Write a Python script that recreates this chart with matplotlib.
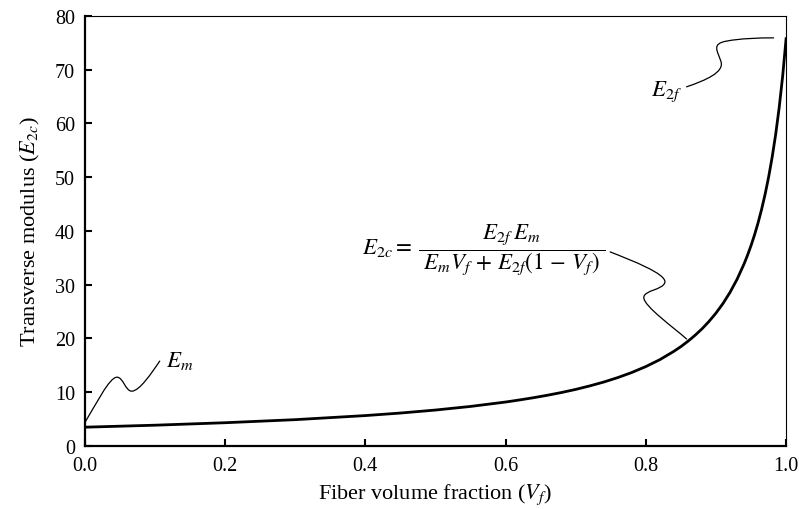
import matplotlib
matplotlib.use("Agg")
import matplotlib.pyplot as plt
from matplotlib.path import Path
from matplotlib.patches import PathPatch

plt.rcParams.update({
    'font.family': ['Liberation Serif', 'DejaVu Serif'],
    'mathtext.fontset': 'stix',
    'font.size': 14,
})

# Transverse modulus curve
vf = [0.0, 0.1, 0.2, 0.3, 0.4, 0.45, 0.5, 0.55, 0.6, 0.62, 0.64, 0.66, 0.68,
      0.7, 0.72, 0.74, 0.76, 0.78, 0.8, 0.82, 0.84, 0.85, 0.86, 0.87, 0.88,
      0.89, 0.9, 0.91, 0.92, 0.93, 0.94, 0.945, 0.95, 0.955, 0.96, 0.965,
      0.97, 0.975, 0.98, 0.985, 0.99, 0.995, 1.0]
e2c = [3.50, 3.87, 4.33, 4.90, 5.66, 6.13, 6.69, 7.36, 8.18, 8.57, 8.99,
       9.45, 9.96, 10.53, 11.18, 11.90, 12.73, 13.68, 14.78, 16.07, 17.62,
       18.50, 19.49, 20.58, 21.80, 23.18, 24.74, 26.53, 28.60, 31.02, 33.89,
       35.53, 37.33, 39.33, 41.56, 44.06, 46.87, 50.07, 53.74, 57.98, 62.96,
       68.87, 76.0]

x_ticks = [0.0, 0.2, 0.4, 0.6, 0.8, 1.0]
y_ticks = [0, 10, 20, 30, 40, 50, 60, 70, 80]


def leader(ax, verts):
    codes = [Path.MOVETO] + [Path.CURVE4] * (len(verts) - 1)
    ax.add_patch(PathPatch(Path(verts, codes), fill=False, lw=0.9,
                           color='black', capstyle='round'))


fig = plt.figure(figsize=(7.99, 5.10), dpi=100)
ax = fig.add_axes([0.106, 0.1235, 0.878, 0.8435])

ax.plot(vf, e2c, color='black', lw=2.0, solid_capstyle='butt',
        solid_joinstyle='round')

ax.set_xlim(0, 1.0)
ax.set_ylim(0, 80)
ax.set_xticks(x_ticks)
ax.set_xticklabels([f'{t:.1f}' for t in x_ticks])
ax.set_yticks(y_ticks)
ax.tick_params(direction='in', length=5, width=1.5, pad=7, labelsize=14.5)

for s in ['left', 'bottom']:
    ax.spines[s].set_linewidth(1.6)
for s in ['top', 'right']:
    ax.spines[s].set_linewidth(0.8)

ax.set_xlabel(r'Fiber volume fraction ($V_f$)', fontsize=16, labelpad=5)
ax.set_ylabel(r'Transverse modulus ($E_{2c}$)', fontsize=16, labelpad=9)

# E_m label and leader
leader(ax, [(0.0, 4.3), (0.015, 7.5), (0.035, 12.8), (0.046, 12.8),
            (0.055, 12.8), (0.058, 10.2), (0.067, 10.2),
            (0.078, 10.2), (0.095, 13.5), (0.107, 15.8)])
ax.text(0.116, 16.0, r'$E_m$', fontsize=16.5, ha='left', va='center')

# E_2f label and leader
leader(ax, [(0.858, 66.8), (0.885, 68.0), (0.912, 69.5), (0.907, 71.5),
            (0.902, 73.5), (0.893, 74.8), (0.915, 75.3),
            (0.935, 75.8), (0.96, 75.9), (0.982, 75.9)])
ax.text(0.851, 66.0, r'$E_{2f}$', fontsize=16.5, ha='right', va='center')

# formula label and leader
leader(ax, [(0.749, 36.1), (0.78, 34.5), (0.83, 32.0), (0.827, 30.4),
            (0.824, 29.0), (0.797, 29.0), (0.797, 27.6),
            (0.797, 26.0), (0.84, 22.0), (0.858, 19.9)])
ax.text(0.396, 36.5,
        r'$E_{2c} = \;\dfrac{E_{2f}\,E_m}'
        r'{\;E_m V_f \,+\, E_{2f}(1 \,-\, V_f)\;}$',
        fontsize=16.5, ha='left', va='center')

fig.savefig('out.png', dpi=100)
